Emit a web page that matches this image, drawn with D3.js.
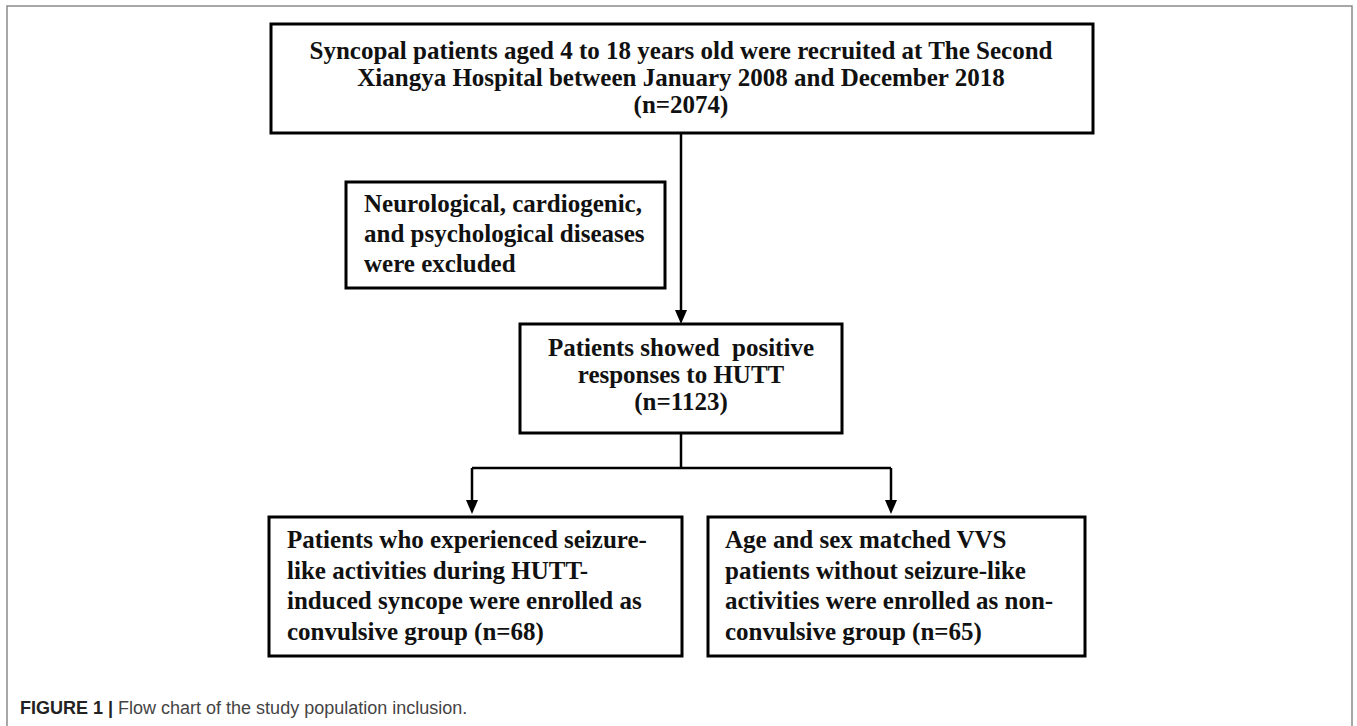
<!DOCTYPE html>
<html>
<head>
<meta charset="utf-8">
<script src="https://cdn.jsdelivr.net/npm/d3@7"></script>
<style>
  body { margin: 0; background: #fff; }
  .box text { font-family: "Liberation Serif", "Times New Roman", serif; font-weight: bold; font-size: 25px; fill: #111; }
  .caption { font-family: "Liberation Sans", Arial, sans-serif; font-size: 18px; fill: #444; }
</style>
</head>
<body>
<script>
// box texts
var recruitLines = ["Syncopal patients aged 4 to 18 years old were recruited at The Second",
                    "Xiangya Hospital between January 2008 and December 2018",
                    "(n=2074)"];
var excludeLines = ["Neurological, cardiogenic,",
                    "and psychological diseases",
                    "were excluded"];
var positiveLines = ["Patients showed  positive",
                     "responses to HUTT",
                     "(n=1123)"];
var convulsiveLines = ["Patients who experienced seizure-",
                       "like activities during HUTT-",
                       "induced syncope were enrolled as",
                       "convulsive group (n=68)"];
var nonConvulsiveLines = ["Age and sex matched VVS",
                          "patients without seizure-like",
                          "activities were enrolled as non-",
                          "convulsive group (n=65)"];
var captionBold = "FIGURE 1";
var captionText = "Flow chart of the study population inclusion.";

var width = 1357, height = 726;

var svg = d3.select("body").append("svg")
    .attr("width", width)
    .attr("height", height);

// outer frame (open at the bottom)
svg.append("path")
    .attr("d", "M7," + height + "V6H1352V" + height)
    .attr("fill", "none")
    .attr("stroke", "#8a8a8a")
    .attr("stroke-width", 1.5);

// layout of the boxes
var boxes = [
    {lines: recruitLines,       x0: 271, x1: 1093, y0: 24,  y1: 133, anchor: "middle", tx: 681, by: 59,  step: 27},
    {lines: excludeLines,       x0: 346, x1: 665,  y0: 182, y1: 288, anchor: "start",  tx: 364, by: 212, step: 30},
    {lines: positiveLines,      x0: 520, x1: 842,  y0: 324, y1: 433, anchor: "middle", tx: 681, by: 356, step: 27},
    {lines: convulsiveLines,    x0: 269, x1: 682,  y0: 517, y1: 656, anchor: "start",  tx: 287, by: 548, step: 30.5},
    {lines: nonConvulsiveLines, x0: 708, x1: 1085, y0: 517, y1: 656, anchor: "start",  tx: 725, by: 548, step: 30.5}
];

var box = svg.selectAll("g.box")
    .data(boxes)
    .enter()
    .append("g")
    .attr("class", "box");

box.append("rect")
    .attr("x", function(d) { return d.x0; })
    .attr("y", function(d) { return d.y0; })
    .attr("width", function(d) { return d.x1 - d.x0; })
    .attr("height", function(d) { return d.y1 - d.y0; })
    .attr("fill", "#fff")
    .attr("stroke", "#000")
    .attr("stroke-width", 3);

box.each(function(d) {
    d3.select(this).selectAll("text")
        .data(d.lines)
        .enter()
        .append("text")
        .attr("x", d.tx)
        .attr("y", function(t, i) { return d.by + i * d.step; })
        .attr("text-anchor", d.anchor)
        .attr("xml:space", "preserve")
        .text(function(t) { return t; });
});

// connectors
var line = d3.line();
var connectors = [
    [[681, 133], [681, 312]],
    [[681, 433], [681, 468]],
    [[472, 468], [891, 468]],
    [[472, 468], [472, 501]],
    [[891, 468], [891, 501]]
];
svg.selectAll("path.link")
    .data(connectors)
    .enter()
    .append("path")
    .attr("class", "link")
    .attr("d", line)
    .attr("fill", "none")
    .attr("stroke", "#000")
    .attr("stroke-width", 2.5);

// arrow heads
var tips = [[681, 324], [472, 514], [891, 514]];
svg.selectAll("path.tip")
    .data(tips)
    .enter()
    .append("path")
    .attr("class", "tip")
    .attr("d", function(d) {
        return "M" + d[0] + "," + d[1] + "L" + (d[0] - 6) + "," + (d[1] - 14) + "L" + (d[0] + 6) + "," + (d[1] - 14) + "Z";
    })
    .attr("fill", "#000");

// caption
var cap = svg.append("text")
    .attr("class", "caption")
    .attr("x", 20)
    .attr("y", 714)
    .attr("xml:space", "preserve");
cap.append("tspan").attr("font-weight", "bold").attr("fill", "#222").text(captionBold);
cap.append("tspan").attr("font-weight", "bold").attr("fill", "#222").text(" | ");
cap.append("tspan").text(captionText);
</script>
</body>
</html>
